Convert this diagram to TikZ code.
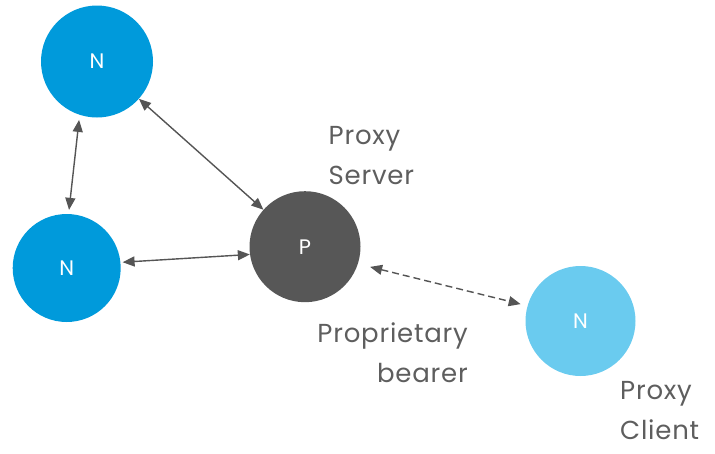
\documentclass[tikz,border=0pt]{standalone}
\usepackage{fontspec}
\setmainfont{Poppins}
\newfontfamily\capfont[LetterSpace=3]{Poppins}
\usetikzlibrary{arrows.meta}
\definecolor{nblue}{HTML}{009ADB}
\definecolor{nlight}{HTML}{6ACBEF}
\definecolor{pgray}{HTML}{575757}
\definecolor{txtgray}{HTML}{5E5E5E}
\definecolor{arrgray}{HTML}{555555}
\tikzset{
  member/.style={circle, fill=#1, inner sep=0pt, text=white, font=\fontsize{21}{21}\selectfont},
  link/.style={draw=arrgray, line width=1.4pt, {Triangle[length=12pt,width=10pt]}-{Triangle[length=12pt,width=10pt]}},
  dashlink/.style={link, dash pattern=on 7pt off 4pt},
  caption/.style={text=txtgray, inner sep=0pt, font=\capfont\fontsize{26}{40}\selectfont}
}
\begin{document}
\begin{tikzpicture}[x=1pt,y=-1pt]
\useasboundingbox (0,0) rectangle (715,453);
\node[member=nblue, minimum size=112pt] (N1) at (97,61.5) {N};
\node[member=nblue, minimum size=108pt] (N2) at (66.7,268) {N};
\node[member=pgray, minimum size=111pt] (P) at (305,246.7) {P};
\node[member=nlight, minimum size=110pt] (N3) at (580.5,321) {N};
\draw[link, shorten <=5pt, shorten >=4pt] (N1.252) -- (N2.88);
\draw[link] (N1) -- (P);
\draw[link, shorten <=2pt] (N2.6) -- (P.188);
\draw[dashlink, shorten <=12.5pt, shorten >=7pt] (P.-18.4) -- (N3.164);
\node[caption, anchor=north west, align=left] (ps) at (328.5,126) {Proxy\\Server};
\node[caption, anchor=north east, align=right] (pb) at (468,322.5) {Proprietary\\bearer};
\node[caption, anchor=north west, align=left] (pc) at (620,381.5) {Proxy\\Client};
\end{tikzpicture}
\end{document}
